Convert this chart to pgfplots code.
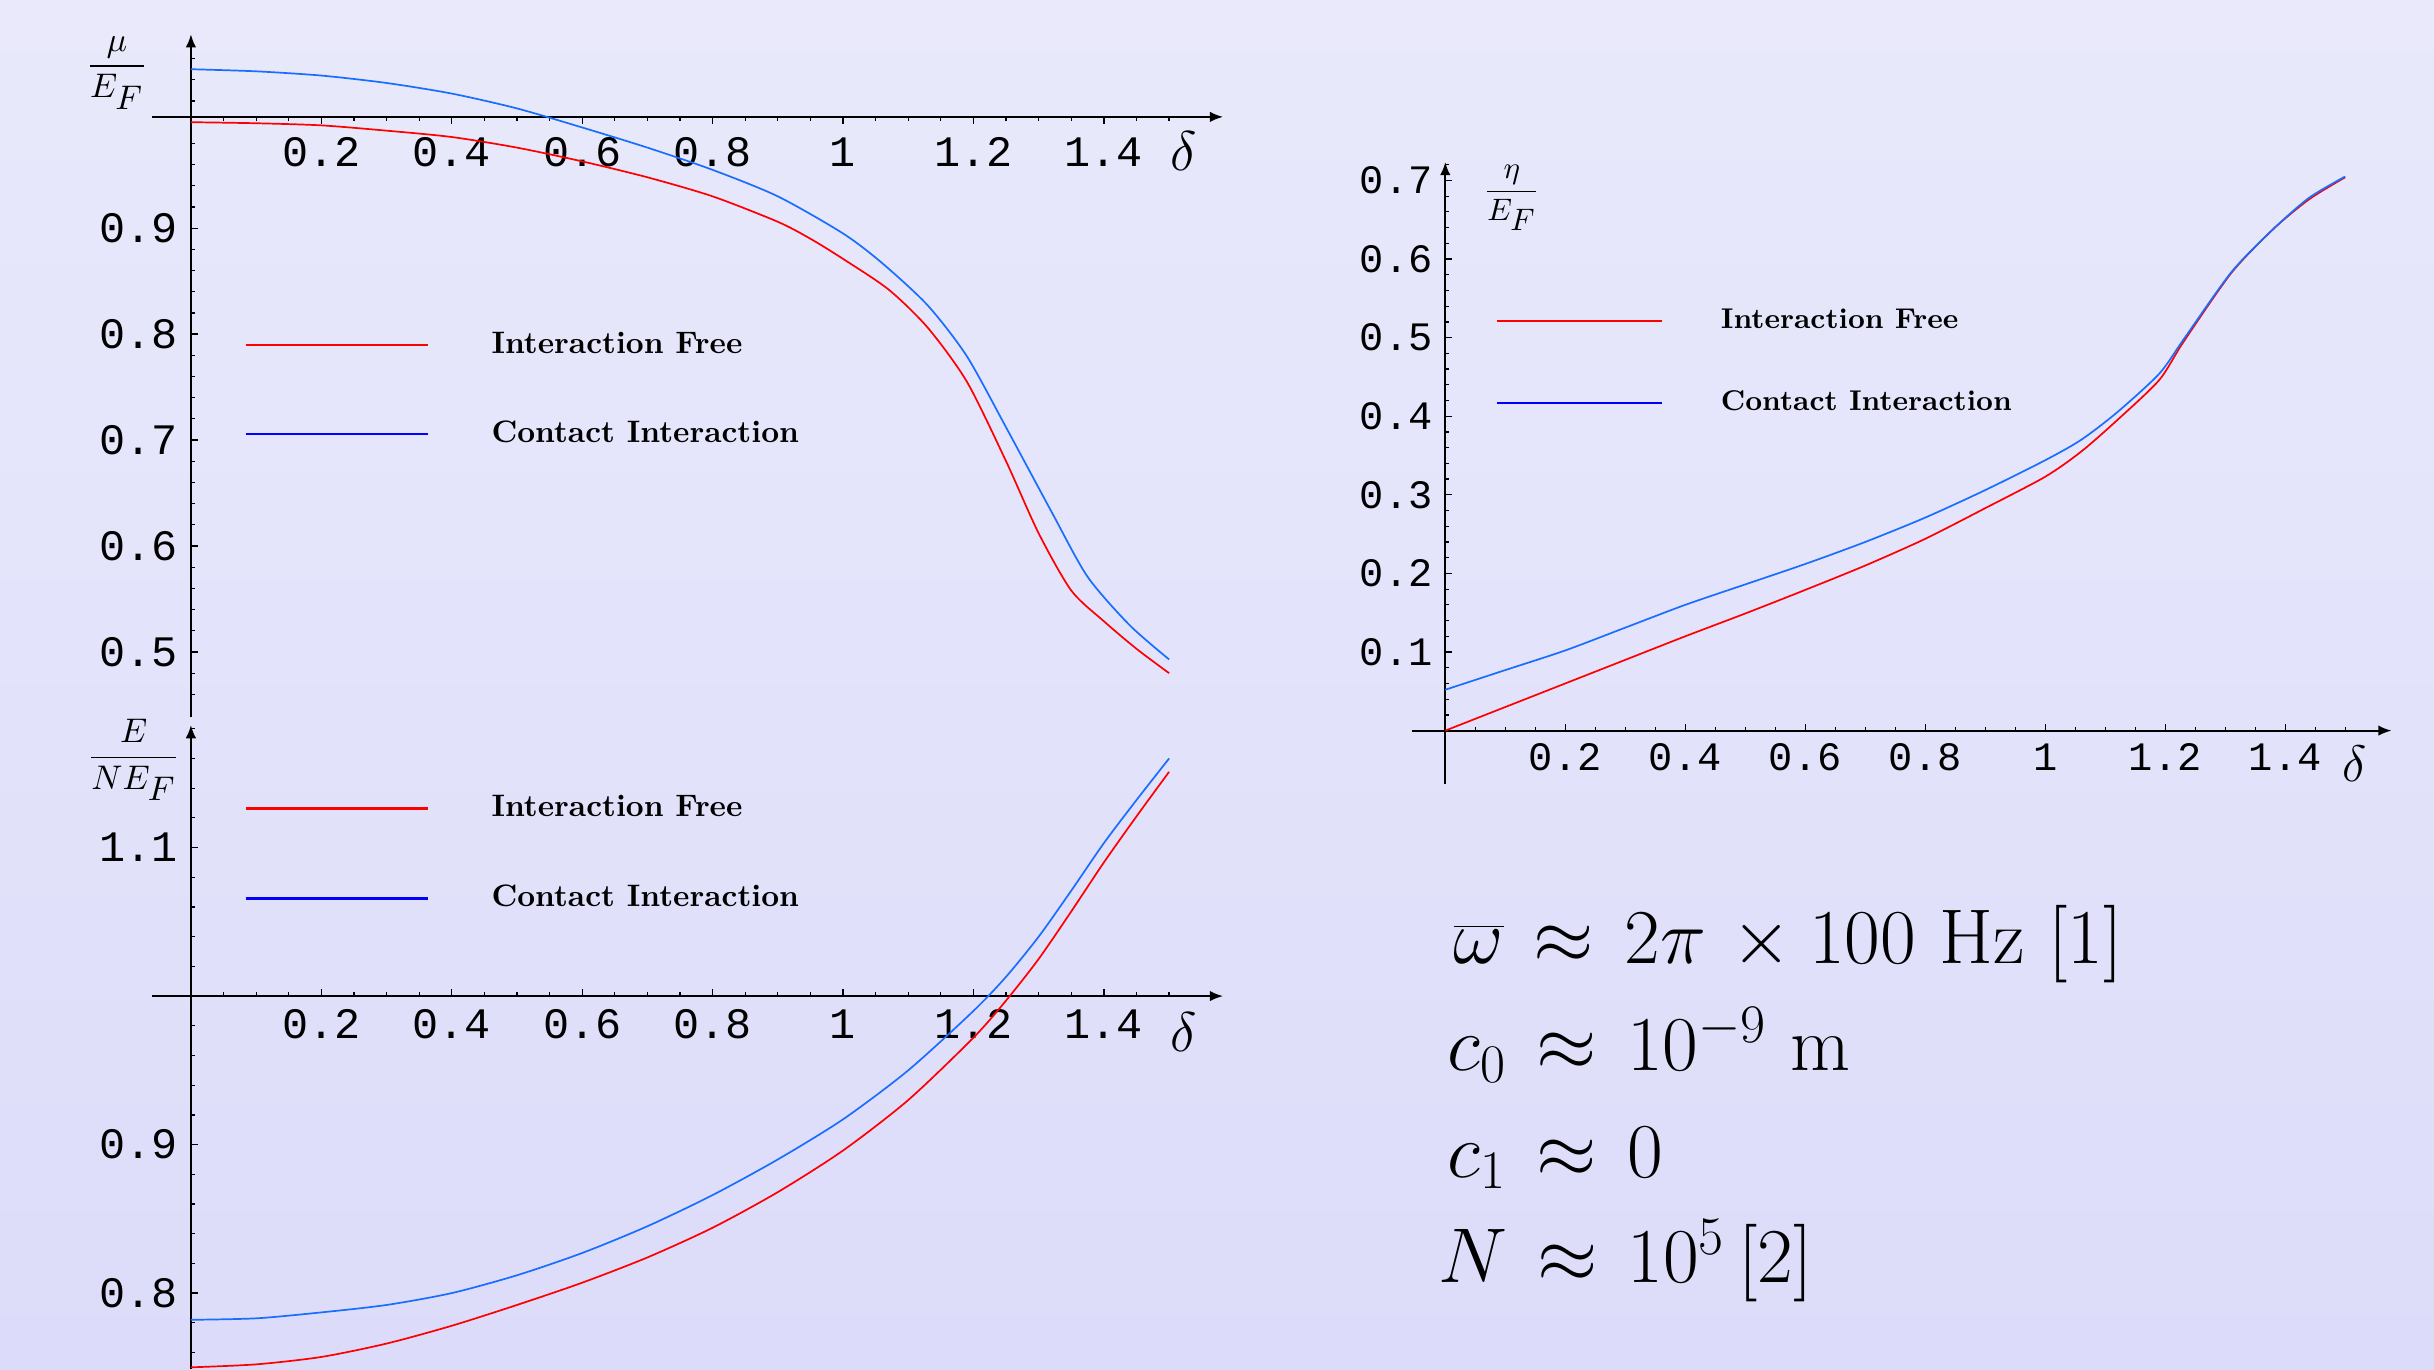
\RequirePackage{fix-cm}
\documentclass[border=0pt]{standalone}
\usepackage{fontspec}
\usepackage{pgfplots}
\pgfplotsset{compat=1.18}
\usetikzlibrary{arrows.meta}
\newfontfamily\tickfont{Liberation Mono}

\definecolor{bgtop}{RGB}{233,233,251}
\definecolor{bgbot}{RGB}{220,220,250}
\definecolor{curvered}{RGB}{255,0,0}
\definecolor{curveblue}{RGB}{25,110,255}
\definecolor{keyred}{RGB}{255,0,0}
\definecolor{keyblue}{RGB}{0,0,255}

\pgfplotsset{
  mmastyle/.style={
    scale only axis,
    axis lines=middle,
    axis line style={line width=0.7pt, -{Latex[length=4.3pt,width=3.4pt]}},
    every inner x axis line/.append style={-{Latex[length=4.3pt,width=3.4pt]}},
    every inner y axis line/.append style={-{Latex[length=4.3pt,width=3.4pt]}},
    tick style={black, line width=0.4pt},
    major tick length=2.2pt,
    minor tick length=1.3pt,
    tick align=inside,
    clip=false,
    legend cell align=left,
    legend style={draw=none, fill=none, inner sep=0pt, outer sep=0pt,
      anchor=north west, nodes={inner sep=0pt}},
  },
  curve/.style={line width=0.55pt, smooth, tension=0.45},
}

\begin{document}
\begin{tikzpicture}
\useasboundingbox (0,0) rectangle (784pt,441pt);
\shade[top color=bgtop, bottom color=bgbot] (0,0) rectangle (784pt,441pt);

% chemical potential
\begin{axis}[mmastyle,
  at={(49pt,210pt)}, anchor=south west,
  width=345pt, height=220pt,
  xmin=-0.0595, xmax=1.583,
  y filter/.expression={y-1.005},
  ymin=-0.5665, ymax=0.0781,
  xtick align=outside,
  xtick={0.2,0.4,0.6,0.8,1,1.2,1.4},
  xticklabels={0.2,0.4,0.6,0.8,1,1.2,1.4},
  minor xtick={0.05,0.1,...,1.51},
  ytick={-0.505,-0.405,-0.305,-0.205,-0.105},
  yticklabels={0.5,0.6,0.7,0.8,0.9},
  minor ytick={-0.545,-0.525,...,0.06},
  xticklabel style={font=\tickfont\fontsize{14}{14}\selectfont, anchor=base, yshift=-13.7pt},
  yticklabel style={font=\tickfont\fontsize{14}{14}\selectfont, anchor=east, xshift=-0.8pt},
  xlabel={$\delta$},
  xlabel style={at={(axis description cs:0.9632,0.8)}, anchor=base, font=\fontsize{18}{20}\selectfont},
  ylabel={$\displaystyle\frac{\mu}{E_{\textstyle F}}$},
  ylabel style={at={(axis description cs:-0.0329,0.9534)}, anchor=base, yshift=-2.75pt, rotate=0, font=\fontsize{11}{13}\selectfont},
  legend image code/.code={\draw[#1] (0pt,0pt) -- (58.7pt,0pt);},
  legend style={at={(0.0862,0.5641)}, font=\fontsize{10}{12}\selectfont\bfseries, row sep=20.3pt,
    /tikz/every odd column/.append style={column sep=20.1pt}},
]
\addlegendimage{keyred, line width=0.8pt}
\addlegendimage{keyblue, line width=0.8pt}
\addplot[curve, curvered, forget plot] coordinates {
  (0,1.000) (0.1,0.999) (0.2,0.997) (0.3,0.992) (0.4,0.986) (0.5,0.976)
  (0.6,0.963) (0.7,0.948) (0.8,0.930) (0.9,0.906) (0.95,0.890) (1.0,0.871)
  (1.07,0.842) (1.13,0.806) (1.19,0.755) (1.25,0.680) (1.3,0.612)
  (1.35,0.558) (1.4,0.529) (1.45,0.503) (1.5,0.480)};
\addplot[curve, curveblue, forget plot] coordinates {
  (0,1.050) (0.1,1.048) (0.2,1.044) (0.3,1.037) (0.4,1.027) (0.5,1.013)
  (0.6,0.995) (0.7,0.976) (0.8,0.955) (0.9,0.930) (1.0,0.895) (1.06,0.867)
  (1.13,0.827) (1.19,0.779) (1.25,0.712) (1.32,0.632) (1.375,0.571)
  (1.44,0.525) (1.5,0.493)};
\legend{Interaction Free, Contact Interaction}
\end{axis}

% energy per particle
\begin{axis}[mmastyle,
  at={(49pt,0pt)}, anchor=south west,
  width=345pt, height=207.5pt,
  xmin=-0.0595, xmax=1.583,
  y filter/.expression={y-1},
  ymin=-0.2512, ymax=0.1826,
  xtick={0.2,0.4,0.6,0.8,1,1.2,1.4},
  xticklabels={0.2,0.4,0.6,0.8,1,1.2,1.4},
  minor xtick={0.05,0.1,...,1.51},
  ytick={-0.2,-0.1,0.1},
  yticklabels={0.8,0.9,1.1},
  minor ytick={-0.24,-0.22,...,0.17},
  xticklabel style={font=\tickfont\fontsize{14}{14}\selectfont, anchor=base, yshift=-13.7pt},
  yticklabel style={font=\tickfont\fontsize{14}{14}\selectfont, anchor=east, xshift=-0.8pt},
  xlabel={$\delta$},
  xlabel style={at={(axis description cs:0.9630,0.4923)}, anchor=base, font=\fontsize{18}{20}\selectfont},
  ylabel={$\displaystyle\frac{E}{NE_{\textstyle F}}$},
  ylabel style={at={(axis description cs:-0.0171,0.9496)}, anchor=base, yshift=-2.75pt, rotate=0, font=\fontsize{11}{13}\selectfont},
  legend image code/.code={\draw[#1] (0pt,0pt) -- (58.7pt,0pt);},
  legend style={at={(0.0862,0.8904)}, font=\fontsize{10}{12}\selectfont\bfseries, row sep=20.5pt,
    /tikz/every odd column/.append style={column sep=20.1pt}},
]
\addlegendimage{keyred, line width=0.8pt}
\addlegendimage{keyblue, line width=0.8pt}
\addplot[curve, curvered, forget plot] coordinates {
  (0,0.750) (0.1,0.752) (0.2,0.757) (0.3,0.766) (0.4,0.778) (0.5,0.792)
  (0.6,0.807) (0.7,0.824) (0.8,0.844) (0.9,0.868) (1.0,0.896) (1.1,0.930)
  (1.2,0.972) (1.25,0.997) (1.3,1.025) (1.35,1.057) (1.4,1.090)
  (1.45,1.121) (1.5,1.151)};
\addplot[curve, curveblue, forget plot] coordinates {
  (0,0.782) (0.1,0.783) (0.2,0.787) (0.3,0.792) (0.4,0.800) (0.5,0.812)
  (0.6,0.827) (0.7,0.845) (0.8,0.866) (0.9,0.890) (1.0,0.917) (1.1,0.950)
  (1.2,0.990) (1.25,1.013) (1.3,1.040) (1.35,1.071) (1.4,1.103)
  (1.45,1.132) (1.5,1.160)};
\legend{Interaction Free, Contact Interaction}
\end{axis}

% eta
\begin{axis}[mmastyle,
  at={(454.9pt,188.5pt)}, anchor=south west,
  width=315.45pt, height=200.35pt,
  xmin=-0.055, xmax=1.5775,
  ymin=-0.0678, ymax=0.7236,
  major tick length=2.0pt, minor tick length=1.2pt,
  xtick={0.2,0.4,0.6,0.8,1,1.2,1.4},
  xticklabels={0.2,0.4,0.6,0.8,1,1.2,1.4},
  minor xtick={0.05,0.1,...,1.51},
  ytick={0.1,0.2,0.3,0.4,0.5,0.6,0.7},
  yticklabels={0.1,0.2,0.3,0.4,0.5,0.6,0.7},
  minor ytick={0.02,0.04,...,0.71},
  xticklabel style={font=\tickfont\fontsize{13}{13}\selectfont, anchor=base, yshift=-12.8pt},
  yticklabel style={font=\tickfont\fontsize{13}{13}\selectfont, anchor=east, xshift=-0.6pt},
  xlabel={$\delta$},
  xlabel style={at={(axis description cs:0.9623,0.0032)}, anchor=base, font=\fontsize{16.5}{18}\selectfont},
  ylabel={$\displaystyle\frac{\eta}{E_{\textstyle F}}$},
  ylabel style={at={(axis description cs:0.1016,0.9526)}, anchor=base, yshift=-2.5pt, rotate=0, font=\fontsize{10}{12}\selectfont},
  legend image code/.code={\draw[#1] (0pt,0pt) -- (53.3pt,0pt);},
  legend style={at={(0.0851,0.7636)}, font=\fontsize{9.2}{11}\selectfont\bfseries, row sep=18.6pt,
    /tikz/every odd column/.append style={column sep=18.5pt}},
]
\addlegendimage{keyred, line width=0.75pt}
\addlegendimage{keyblue, line width=0.75pt}
\addplot[curve, curvered, forget plot] coordinates {
  (0,0) (0.1,0.030) (0.2,0.060) (0.3,0.090) (0.4,0.120) (0.5,0.149)
  (0.6,0.179) (0.7,0.210) (0.8,0.244) (0.9,0.283) (1.0,0.323) (1.06,0.355)
  (1.12,0.395) (1.19,0.446) (1.23,0.494) (1.31,0.582) (1.38,0.638)
  (1.44,0.676) (1.5,0.704)};
\addplot[curve, curveblue, forget plot] coordinates {
  (0,0.052) (0.1,0.077) (0.2,0.102) (0.3,0.131) (0.4,0.160) (0.5,0.186)
  (0.6,0.212) (0.7,0.240) (0.8,0.271) (0.9,0.306) (1.0,0.344) (1.06,0.370)
  (1.12,0.405) (1.19,0.454) (1.23,0.497) (1.31,0.583) (1.38,0.638)
  (1.44,0.678) (1.5,0.705)};
\legend{Interaction Free, Contact Interaction}
\end{axis}

% trap and sample parameters
\begin{scope}[every node/.style={anchor=base west, inner sep=0pt, font=\fontsize{25}{30}\selectfont}]
\node at (468pt,130.5pt) {$\overline{\omega}\mskip2mu\approx\mskip2mu 2\pi\mskip2mu\times 100\ \mathrm{Hz}\ [1]$};
\node at (466pt,96.15pt) {$c_0\mskip2mu\approx\mskip2mu 10^{-9}\ \mathrm{m}$};
\node at (466pt,61.8pt) {$c_1\mskip2mu\approx\mskip2mu 0$};
\node at (463pt,27.85pt) {$N\mskip2mu\approx\mskip2mu 10^5\,[2]$};
\end{scope}
\end{tikzpicture}
\end{document}
